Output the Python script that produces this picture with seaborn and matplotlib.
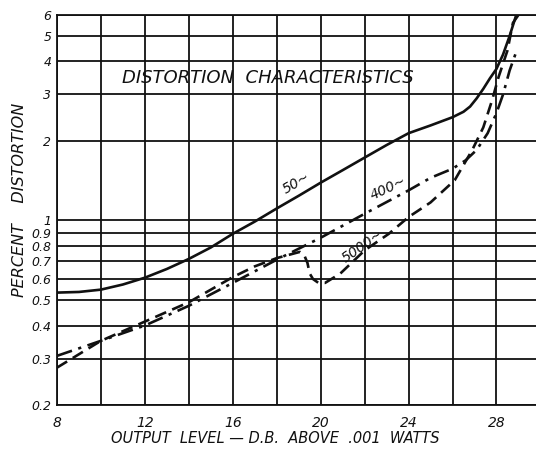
import numpy as np
import pandas as pd
import matplotlib
matplotlib.use("Agg")
import matplotlib.pyplot as plt
import seaborn as sns

# values (output level in dB above .001 W, percent distortion)
x_50 = [8, 9, 10, 11, 12, 13, 14, 15, 16, 17, 18, 19, 20, 21, 22, 23, 24, 25, 26,
        26.5, 26.8, 27.1, 27.4, 27.7, 28, 28.3, 28.6, 28.9]
y_50 = [0.533, 0.536, 0.547, 0.572, 0.607, 0.655, 0.715, 0.79, 0.89, 0.99, 1.11, 1.24,
        1.39, 1.55, 1.73, 1.93, 2.14, 2.29, 2.46, 2.58, 2.70, 2.9, 3.15, 3.45, 3.75,
        4.25, 5.0, 6.0]

x_400 = [8, 10, 12, 14, 16, 18, 20, 22, 24, 25, 26, 26.6, 27.1, 27.6, 28.0, 28.3, 28.6, 28.9]
y_400 = [0.307, 0.35, 0.40, 0.475, 0.58, 0.71, 0.86, 1.06, 1.3, 1.45, 1.57, 1.69, 1.85,
         2.14, 2.55, 3.0, 3.7, 4.35]

x_5000 = [8, 10, 12, 14, 16, 17, 18, 19.05, 19.25, 19.4, 19.5, 19.65, 19.9, 20.2, 20.9,
          22, 23.1, 24, 25, 26.1, 26.9, 27.4, 27.8, 28.1, 28.5, 28.75, 29.0]
y_5000 = [0.277, 0.35, 0.414, 0.49, 0.61, 0.67, 0.72, 0.76, 0.74, 0.69, 0.63, 0.60, 0.58,
          0.58, 0.63, 0.77, 0.89, 1.03, 1.17, 1.42, 1.85, 2.25, 2.85, 3.5, 4.4, 5.6, 6.0]

y_ticks = [0.2, 0.3, 0.4, 0.5, 0.6, 0.7, 0.8, 0.9, 1, 2, 3, 4, 5, 6]
y_labels = ["0.2", "0.3", "0.4", "0.5", "0.6", "0.7", "0.8", "0.9", "1", "2", "3", "4", "5", "6"]
x_ticks = [8, 10, 12, 14, 16, 18, 20, 22, 24, 26, 28]
x_labels = ["8", "", "12", "", "16", "", "20", "", "24", "", "28"]

sns.set_style("white")
plt.rcParams['font.family'] = ['DejaVu Sans']

fig = plt.figure(figsize=(5.36, 4.49), dpi=100)
ax = fig.add_axes([0.1063, 0.098, 0.8937, 0.8686])

ink = "#111111"
sns.lineplot(x=x_50, y=y_50, ax=ax, color=ink, linewidth=1.9)
sns.lineplot(x=x_400, y=y_400, ax=ax, color=ink, linewidth=1.9, linestyle=(0, (6, 2.5, 1.2, 2.5)))
sns.lineplot(x=x_5000, y=y_5000, ax=ax, color=ink, linewidth=1.9, linestyle=(0, (4.5, 2.5)))

ax.set_yscale("log")
ax.set_xlim(8, 29.8)
ax.set_ylim(0.2, 6)
ax.set_yticks(y_ticks)
ax.set_yticklabels(y_labels, fontsize=9, style="italic", color=ink)
ax.yaxis.set_minor_locator(matplotlib.ticker.NullLocator())
ax.set_xticks(x_ticks)
ax.set_xticklabels(x_labels, fontsize=10, style="italic", color=ink)
ax.tick_params(axis="both", length=0)
ax.tick_params(axis="y", pad=4)
ax.tick_params(axis="x", pad=8)
ax.grid(True, color=ink, linewidth=1.3)
for s in ["left", "bottom", "top"]:
    ax.spines[s].set_color(ink)
    ax.spines[s].set_linewidth(1.3)
ax.spines["right"].set_visible(False)

ax.set_xlabel("OUTPUT  LEVEL — D.B.  ABOVE  .001  WATTS", fontsize=10.5, style="italic",
              color=ink, va="center")
ax.set_ylabel("PERCENT    DISTORTION", fontsize=11.5, style="italic", color=ink, va="center")
ax.yaxis.set_label_coords(-0.079, 0.526)
ax.xaxis.set_label_coords(0.455, -0.085)

ax.text(17.6, 3.46, "DISTORTION  CHARACTERISTICS", fontsize=13, style="italic",
        ha="center", va="center", color=ink)
ax.text(18.9, 1.38, "50~", fontsize=10, style="italic", rotation=30, ha="center", va="center", color=ink)
ax.text(23.1, 1.32, "400~", fontsize=10, style="italic", rotation=25, ha="center", va="center", color=ink)
ax.text(21.93, 0.80, "5000~", fontsize=10, style="italic", rotation=35, ha="center", va="center", color=ink)

plt.savefig("out.png", dpi=100)
